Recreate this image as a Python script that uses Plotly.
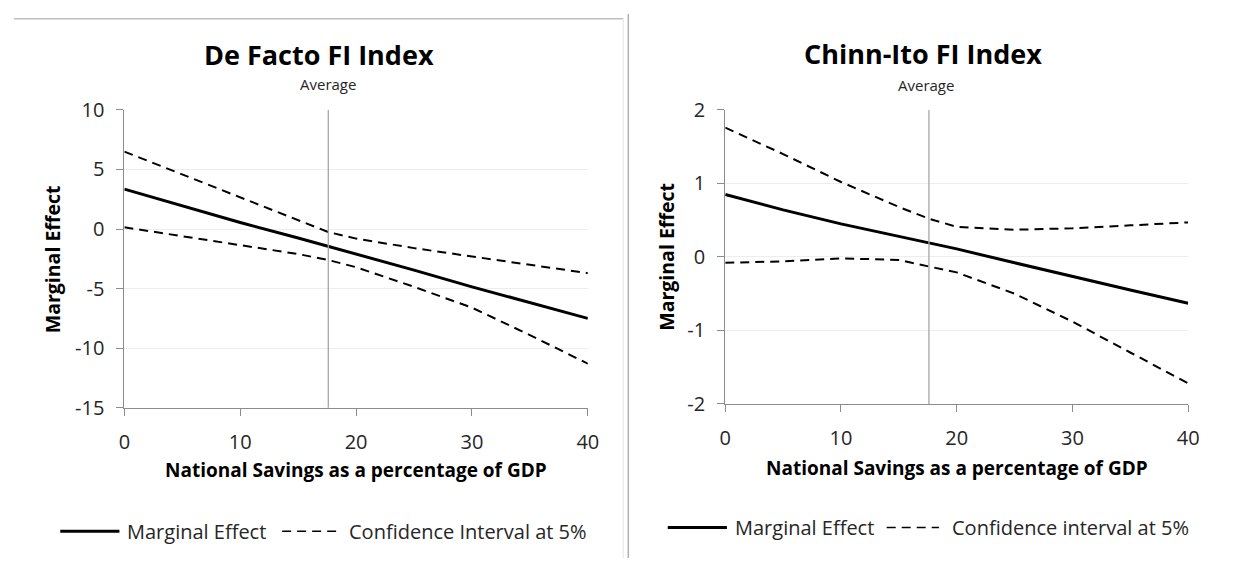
import plotly.graph_objects as go

# National savings (% of GDP) at which the marginal effects are evaluated
savings = [0, 5, 10, 15, 17.6, 20, 25, 30, 35, 40]
avg_savings = 17.6

# De Facto FI Index
defacto_effect = [3.35, 1.95, 0.55, -0.75, -1.45, -2.05, -3.45, -4.85, -6.2, -7.5]
defacto_upper = [6.5, 4.6, 2.7, 0.8, -0.25, -0.8, -1.6, -2.3, -3.0, -3.7]
defacto_lower = [0.15, -0.6, -1.35, -2.1, -2.6, -3.2, -4.85, -6.6, -8.9, -11.3]

# Chinn-Ito FI Index
chinn_effect = [0.85, 0.64, 0.45, 0.28, 0.19, 0.11, -0.08, -0.27, -0.45, -0.63]
chinn_upper = [1.76, 1.40, 1.02, 0.68, 0.52, 0.41, 0.37, 0.39, 0.43, 0.47]
chinn_lower = [-0.08, -0.06, -0.02, -0.04, -0.13, -0.21, -0.5, -0.88, -1.3, -1.72]

# Axis tick labels (plain hyphen for negatives)
defacto_ticks = [-15, -10, -5, 0, 5, 10]
defacto_ticktext = ["-15", "-10", "-5", "0", "5", "10"]
chinn_ticks = [-2, -1, 0, 1, 2]
chinn_ticktext = ["-2", "-1", "0", "1", "2"]

W, H = 1233, 571
FONT = "Open Sans"
INK = "#000000"
LABEL = "#262626"
AXIS = "#8c8c8c"
GRID = "#ededed"


def px(x):
    return x / W


def py(y):
    return 1 - y / H


fig = go.Figure()

panels = [
    dict(xa="x", ya="y", eff=defacto_effect, up=defacto_upper, lo=defacto_lower),
    dict(xa="x2", ya="y2", eff=chinn_effect, up=chinn_upper, lo=chinn_lower),
]
for p in panels:
    fig.add_trace(go.Scatter(x=savings, y=p["eff"], mode="lines", xaxis=p["xa"], yaxis=p["ya"],
                             line=dict(color=INK, width=3), showlegend=False, hoverinfo="skip"))
    for band in (p["up"], p["lo"]):
        fig.add_trace(go.Scatter(x=savings, y=band, mode="lines", xaxis=p["xa"], yaxis=p["ya"],
                                 line=dict(color=INK, width=2, dash="9px,6px"),
                                 showlegend=False, hoverinfo="skip"))

common_x = dict(range=[0, 40], dtick=10, showgrid=False, showline=True, linecolor=AXIS, linewidth=1,
                ticks="outside", ticklen=7, tickcolor=AXIS, zeroline=False,
                tickfont=dict(family=FONT, size=20, color=LABEL), ticklabelstandoff=9,
                fixedrange=True)
common_y = dict(showgrid=True, gridcolor=GRID, gridwidth=1, showline=True, linecolor=AXIS, linewidth=1,
                ticks="outside", ticklen=7, tickcolor=AXIS, zeroline=False,
                tickfont=dict(family=FONT, size=20, color=LABEL), ticklabelstandoff=8,
                fixedrange=True)

fig.update_layout(
    width=W, height=H, margin=dict(l=0, r=0, t=0, b=0),
    paper_bgcolor="white", plot_bgcolor="white", showlegend=False,
    xaxis=dict(common_x, domain=[px(120), px(590)], anchor="y"),
    yaxis=dict(common_y, domain=[py(413.3), py(100.7)], range=[-15, 10],
               tickvals=defacto_ticks, ticktext=defacto_ticktext, anchor="x"),
    xaxis2=dict(common_x, domain=[px(729.3), px(1198.7)], anchor="y2"),
    yaxis2=dict(common_y, domain=[py(409.3), py(100.7)], range=[-2, 2],
                tickvals=chinn_ticks, ticktext=chinn_ticktext, anchor="x2"),
)

shapes = []
# sample-average markers
for xa, ya in (("x", "y"), ("x2", "y2")):
    shapes.append(dict(type="line", xref=xa, yref=f"{ya} domain", x0=avg_savings, x1=avg_savings,
                       y0=0, y1=1, line=dict(color="#a6a6a6", width=1.3)))
# panel frames
shapes.append(dict(type="line", xref="paper", yref="paper", x0=px(8), x1=px(626), y0=py(5), y1=py(5),
                   line=dict(color="#bfbfbf", width=1.5)))
shapes.append(dict(type="line", xref="paper", yref="paper", x0=px(626), x1=px(626), y0=py(5), y1=0,
                   line=dict(color="#ececec", width=1.5)))
shapes.append(dict(type="line", xref="paper", yref="paper", x0=px(631), x1=px(631), y0=1, y1=0,
                   line=dict(color="#b0b0b0", width=1.5)))

annotations = []


def text(x, y, s, size, bold=False, angle=0, anchor="center", color=INK):
    annotations.append(dict(x=px(x), y=py(y), xref="paper", yref="paper", text=f"<b>{s}</b>" if bold else s,
                            showarrow=False, xanchor=anchor, yanchor="middle", textangle=angle,
                            font=dict(family=FONT, size=size, color=color)))


panel_text = [
    dict(title="De Facto FI Index", tx=317, ty=43, sx=327, sy=73, ylx=48, yly=257, xtx=355, xty=479,
         ly=543, solid=(55, 115), t1=121, dash=(280, 335), t2=346, ci="Confidence Interval at 5%"),
    dict(title="Chinn-Ito FI Index", tx=930, ty=41, sx=933, sy=74, ylx=670, yly=255, xtx=964, xty=477,
         ly=539, solid=(671, 731), t1=737, dash=(893, 946), t2=957, ci="Confidence interval at 5%"),
]
for t in panel_text:
    text(t["tx"], t["ty"], t["title"], 27, bold=True)
    text(t["sx"], t["sy"], "Average", 15, color=LABEL)
    text(t["ylx"], t["yly"], "Marginal Effect", 19.5, bold=True, angle=-90)
    text(t["xtx"], t["xty"], "National Savings as a percentage of GDP", 19, bold=True)
    # legend keys
    shapes.append(dict(type="line", xref="paper", yref="paper", x0=px(t["solid"][0]), x1=px(t["solid"][1]),
                       y0=py(t["ly"]), y1=py(t["ly"]), line=dict(color=INK, width=3)))
    shapes.append(dict(type="line", xref="paper", yref="paper", x0=px(t["dash"][0]), x1=px(t["dash"][1]),
                       y0=py(t["ly"]), y1=py(t["ly"]), line=dict(color=INK, width=1.5, dash="9px,6px")))
    text(t["t1"], t["ly"], "Marginal Effect", 20, anchor="left", color=LABEL)
    text(t["t2"], t["ly"], t["ci"], 20, anchor="left", color=LABEL)

fig.update_layout(shapes=shapes, annotations=annotations)
fig.write_html("out.html")
